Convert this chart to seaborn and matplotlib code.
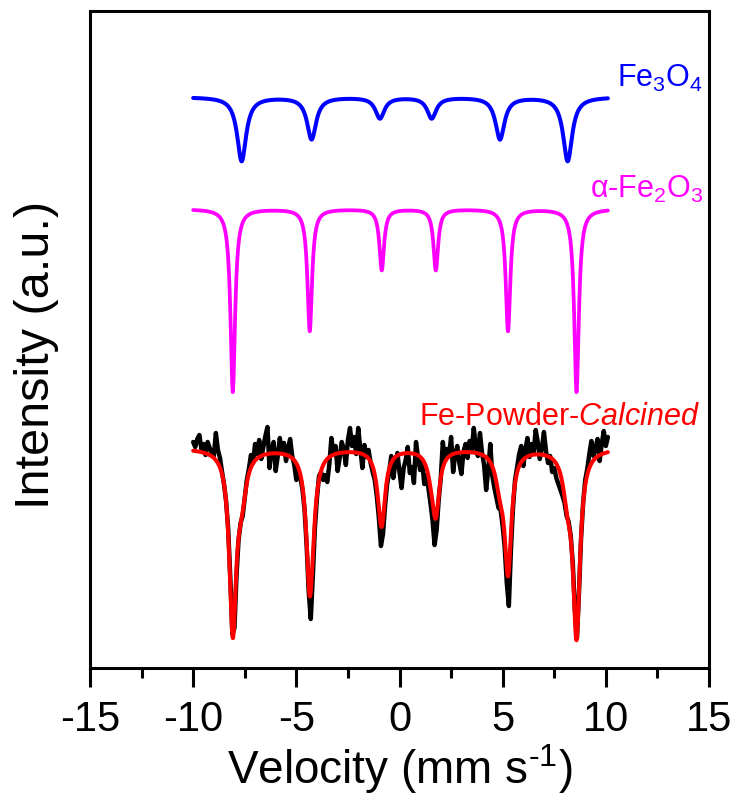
import numpy as np
import matplotlib
matplotlib.use("Agg")
import matplotlib.pyplot as plt
from matplotlib.ticker import MultipleLocator, NullLocator
import seaborn as sns

sns.set_style("white")
plt.rcParams["font.family"] = ["Liberation Sans", "DejaVu Sans"]
plt.rcParams["mathtext.fontset"] = "custom"
plt.rcParams["mathtext.rm"] = "Liberation Sans"
plt.rcParams["mathtext.it"] = "Liberation Sans:italic"
plt.rcParams["mathtext.default"] = "regular"
plt.rcParams["axes.unicode_minus"] = False
plt.rcParams["text.color"] = "black"
plt.rcParams["axes.labelcolor"] = "black"
plt.rcParams["xtick.color"] = "black"
plt.rcParams["ytick.color"] = "black"

# Measured spectrum, one value per 0.1 mm/s channel from -10.0 to 10.1 mm/s
velocity = np.round(np.arange(-100, 102) / 10, 1)
measured = [
    226, 221, 229, 233, 219, 224, 213, 226, 220, 215,
    212, 235, 218, 210, 196, 183, 166, 138, 90, 34,
    40, 92, 128, 145, 152, 170, 188, 199, 213, 205,
    224, 214, 228, 209, 221, 232, 241, 200, 218, 226,
    197, 212, 230, 215, 225, 207, 220, 229, 212, 203,
    188, 196, 190, 178, 158, 122, 76, 49, 92, 140,
    170, 192, 196, 188, 193, 186, 204, 230, 214, 222,
    197, 210, 226, 219, 203, 228, 240, 222, 231, 214,
    240, 219, 200, 223, 211, 218, 205, 196, 188, 172,
    150, 122, 134, 162, 184, 196, 212, 190, 205, 215,
    196, 180, 200, 208, 221, 195, 201, 185, 226, 210,
    198, 206, 184, 193, 180, 165, 148, 123, 138, 168,
    190, 226, 208, 219, 212, 231, 196, 214, 222, 205,
    194, 216, 224, 210, 227, 218, 240, 221, 212, 235,
    215, 203, 178, 198, 224, 192, 180, 170, 160, 158,
    142, 120, 85, 62, 118, 160, 188, 201, 214, 222,
    202, 218, 230, 211, 224, 215, 238, 226, 209, 220,
    236, 217, 205, 212, 196, 200, 190, 184, 178, 172,
    165, 152, 146, 132, 104, 58, 30, 76, 130, 165,
    188, 199, 214, 227, 212, 220, 229, 207, 224, 237,
    222, 231,
]

# Sextet line positions (mm/s)
hematite_pos = [-8.08, -4.35, -0.86, 1.76, 5.26, 8.58]
magnetite_pos = [-7.65, -4.26, -0.95, 1.56, 4.87, 8.15]

# Fit of the calcined powder: hematite + magnetite contributions
fit_baseline = 220
fit_hematite_depth = [179, 120, 62, 58, 118, 181]
fit_magnetite_depth = [38, 30, 17, 17, 28, 38]
fit_hematite_hw = 0.20
fit_magnetite_hw = 0.265

# Reference sextets drawn above (offset baselines)
magnetite_baseline = 571
magnetite_depth = [64, 42, 21, 21, 42, 64]
magnetite_hw = 0.265
hematite_baseline = 459
hematite_depth = [183, 122, 61, 61, 122, 183]
hematite_hw = 0.135


def sextet(v, positions, depths, hw):
    total = np.zeros_like(v)
    for p, d in zip(positions, depths):
        total += d / (1.0 + ((v - p) / hw) ** 2)
    return total


v_fine = np.linspace(-10.0, 10.1, 2021)
fit_curve = (fit_baseline
             - sextet(v_fine, hematite_pos, fit_hematite_depth, fit_hematite_hw)
             - sextet(v_fine, magnetite_pos, fit_magnetite_depth, fit_magnetite_hw))
magnetite_curve = magnetite_baseline - sextet(v_fine, magnetite_pos, magnetite_depth, magnetite_hw)
hematite_curve = hematite_baseline - sextet(v_fine, hematite_pos, hematite_depth, hematite_hw)

fig = plt.figure(figsize=(7.39, 8.03), dpi=100)
ax = fig.add_axes([90 / 739, 134 / 803, 619 / 739, 657 / 803])

sns.lineplot(x=velocity, y=measured, color="black", linewidth=3.2,
             estimator=None, sort=False, ax=ax)
sns.lineplot(x=v_fine, y=fit_curve, color="#ff0000", linewidth=2.9,
             estimator=None, sort=False, ax=ax)
sns.lineplot(x=v_fine, y=hematite_curve, color="#ff00ff", linewidth=2.7,
             estimator=None, sort=False, ax=ax)
sns.lineplot(x=v_fine, y=magnetite_curve, color="#0000ff", linewidth=2.9,
             estimator=None, sort=False, ax=ax)

ax.text(14.71, 582, r"Fe$_3$O$_4$", color="#0000ff", fontsize=22,
        ha="right", va="baseline")
ax.text(14.71, 471, r"α-Fe$_2$O$_3$", color="#ff00ff", fontsize=22,
        ha="right", va="baseline")
ax.text(14.56, 244, r"Fe-Powder-$\mathit{Calcined}$", color="#ff0000",
        fontsize=22, ha="right", va="baseline")

ax.set_xlim(-15, 15)
ax.set_ylim(0, 657)
ax.xaxis.set_major_locator(MultipleLocator(5))
ax.xaxis.set_minor_locator(MultipleLocator(2.5))
ax.yaxis.set_major_locator(NullLocator())
ax.tick_params(axis="x", which="major", direction="out", length=14, width=2.2,
               labelsize=30, pad=8, top=False, bottom=True)
ax.tick_params(axis="x", which="minor", direction="out", length=7, width=2.2,
               top=False, bottom=True)
for side in ax.spines.values():
    side.set_linewidth(2.2)
    side.set_color("black")

ax.set_xlabel(r"Velocity (mm s$^{\text{-1}}$)", fontsize=33, labelpad=2)
ax.set_ylabel("Intensity (a.u.)", fontsize=35)
ax.yaxis.set_label_coords(-0.05, 0.478)

fig.savefig("out.png", dpi=100)
